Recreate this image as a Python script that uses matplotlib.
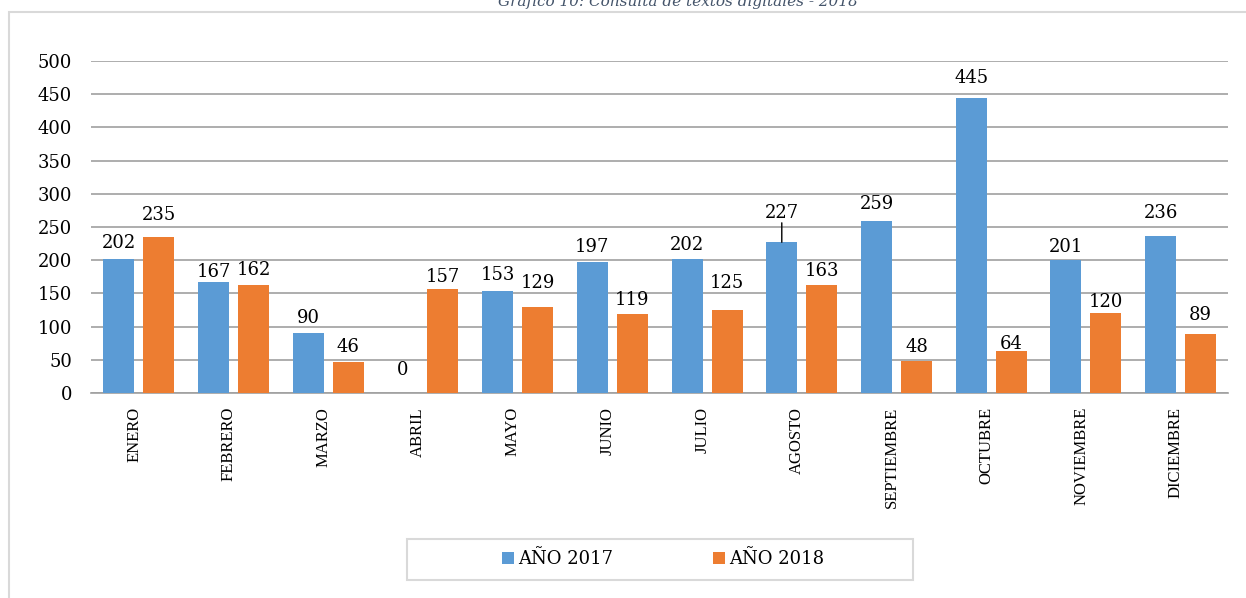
import matplotlib.pyplot as plt
from matplotlib.patches import Rectangle

# Data
meses = ["ENERO", "FEBRERO", "MARZO", "ABRIL", "MAYO", "JUNIO", "JULIO",
         "AGOSTO", "SEPTIEMBRE", "OCTUBRE", "NOVIEMBRE", "DICIEMBRE"]
anio_2017 = [202, 167, 90, 0, 153, 197, 202, 227, 259, 445, 201, 236]
anio_2018 = [235, 162, 46, 157, 129, 119, 125, 163, 48, 64, 120, 89]
series_labels = ["AÑO 2017", "AÑO 2018"]
titulo = "Gráfico 10: Consulta de textos digitales - 2018"

# label offsets above the bar top (pixels), as placed in the original
off_2017 = [16, 10, 15, 23, 16, 15, 14, 29, 17, 20, 13, 23]
off_2018 = [22, 15, 15, 12, 24, 14, 27, 14, 14, 7, 11, 19]

azul = "#5B9BD5"
naranja = "#ED7D31"
W, H = 1246, 598

fig = plt.figure(figsize=(W / 100, H / 100), dpi=100)
ax = fig.add_axes([91.4 / W, 1 - 393 / H, 1136.6 / W, 332 / H])

x = list(range(len(meses)))
bw = 0.327
d = 0.211
b1 = ax.bar([i - d for i in x], anio_2017, bw, color=azul, label=series_labels[0], zorder=3)
b2 = ax.bar([i + d for i in x], anio_2018, bw, color=naranja, label=series_labels[1], zorder=3)

lab_font = dict(family="DejaVu Serif", size=13, color="black")
for bars, vals, offs in ((b1, anio_2017, off_2017), (b2, anio_2018, off_2018)):
    for rect, v, o in zip(bars, vals, offs):
        cx = rect.get_x() + rect.get_width() / 2
        ax.annotate(str(v), (cx, v), xytext=(0, o * 0.72), textcoords="offset points",
                    ha="center", va="center", zorder=4, **lab_font)

# leader line for AGOSTO 2017 label
ag = meses.index("AGOSTO")
ax.annotate("", (ag - d, anio_2017[ag]), xytext=(0, 14), textcoords="offset points",
            arrowprops=dict(arrowstyle="-", color="black", lw=1, shrinkA=0, shrinkB=0))

ax.set_xlim(-0.5, len(meses) - 0.5)
ax.set_ylim(0, 500)
ax.set_yticks(range(0, 501, 50))
ax.yaxis.grid(True, color="#a0a0a0", lw=1.2, zorder=0)
ax.set_axisbelow(True)
for s in ["top", "right", "left"]:
    ax.spines[s].set_visible(False)
ax.spines["bottom"].set_color("#a0a0a0")
ax.spines["bottom"].set_linewidth(1.2)
ax.tick_params(axis="y", length=0, pad=14)
ax.tick_params(axis="x", length=0, pad=10)
ax.set_xticks([i - 0.05 for i in x])
ax.set_xticklabels(meses, rotation=90, va="top", ha="center",
                   family="Liberation Serif", fontsize=12)
for t in ax.get_yticklabels():
    t.set_family("DejaVu Serif")
    t.set_fontsize(13)

# chart outer border
fig.patches.append(Rectangle((9 / W, -0.1), 1.2, 1.1 - 12 / H, transform=fig.transFigure,
                             fill=False, edgecolor="#d9d9d9", lw=1.5))
# legend box
fig.patches.append(Rectangle((407 / W, 1 - 580 / H), 506 / W, 41 / H, transform=fig.transFigure,
                             fill=False, edgecolor="#d9d9d9", lw=1.5))
fig.legend(handles=[b1, b2], labels=series_labels, loc="center",
           bbox_to_anchor=(663 / W, 1 - 559 / H), ncol=2, frameon=False,
           handlelength=0.67, handleheight=0.67, handletextpad=0.25,
           columnspacing=5.5, prop=dict(family="DejaVu Serif", size=13))

fig.text(678 / W, 1 - 6 / H, titulo, ha="center", va="baseline",
         family="DejaVu Serif", style="italic", fontsize=11, color="#44546A")

fig.savefig("out.png", dpi=100)
